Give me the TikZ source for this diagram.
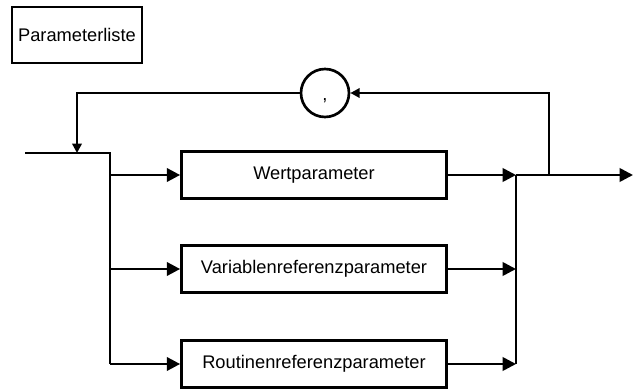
\documentclass[tikz,border=0pt]{standalone}
\usepackage{fontspec}
\setmainfont{Liberation Sans}
\usetikzlibrary{arrows.meta}

\begin{document}
\begin{tikzpicture}[x=0.75pt,y=0.75pt,
  line/.style={line width=2pt},
  flow/.style={line, -{Triangle[length=10pt,width=10pt]}},
  back/.style={line, -{Triangle[length=7pt,width=7pt]}},
  rule/.style={draw, line width=2pt, minimum width=198.75pt, minimum height=35.5pt,
    font=\fontsize{13.7}{16}\selectfont, inner sep=0pt},
  sep/.style={draw, circle, line width=2pt, minimum size=36pt, inner sep=0pt,
    text height=12pt, text depth=0pt, font=\fontsize{13.7}{16}\selectfont}]
\useasboundingbox (0,0) rectangle (633,390);
% title
\node[draw, line width=2pt, minimum width=97.5pt, minimum height=42pt, inner sep=0pt,
  font=\fontsize{13.7}{16}\selectfont] (title) at (77,355) {Parameterliste};
% the three alternatives
\node[rule] (wert) at (314,215) {Wertparameter};
\node[rule] (var) at (314,121) {Variablenreferenzparameter};
\node[rule] (rout) at (314,26) {Routinenreferenzparameter};
\node[sep] (komma) at (325,297) {,};
% points of the track
\coordinate (in) at (25,237);
\coordinate (ret) at (77,237);
\coordinate (rettop) at (77,297);
\coordinate (split) at (110,237);
\coordinate (s1) at (110,215);
\coordinate (s2) at (110,121);
\coordinate (s3) at (110,26);
\coordinate (j1) at (516,215);
\coordinate (j2) at (516,121);
\coordinate (j3) at (516,26);
\coordinate (loop) at (549,215);
\coordinate (looptop) at (549,297);
\coordinate (out) at (633,215);
% entry and branches
\draw[line] (in) -- (split) -- (s3);
\draw[flow] (s1) -- (wert);
\draw[flow] (s2) -- (var);
\draw[flow] (s3) -- (rout);
% joining
\draw[flow] (wert) -- (j1);
\draw[flow] (var) -- (j2);
\draw[flow] (rout) -- (j3);
\draw[line] (j1) -- (j3);
\draw[flow] (j1) -- (out);
% repetition with comma
\draw[back] (loop) -- (looptop) -- (komma);
\draw[back] (komma) -- (rettop) -- (ret);
\end{tikzpicture}
\end{document}
